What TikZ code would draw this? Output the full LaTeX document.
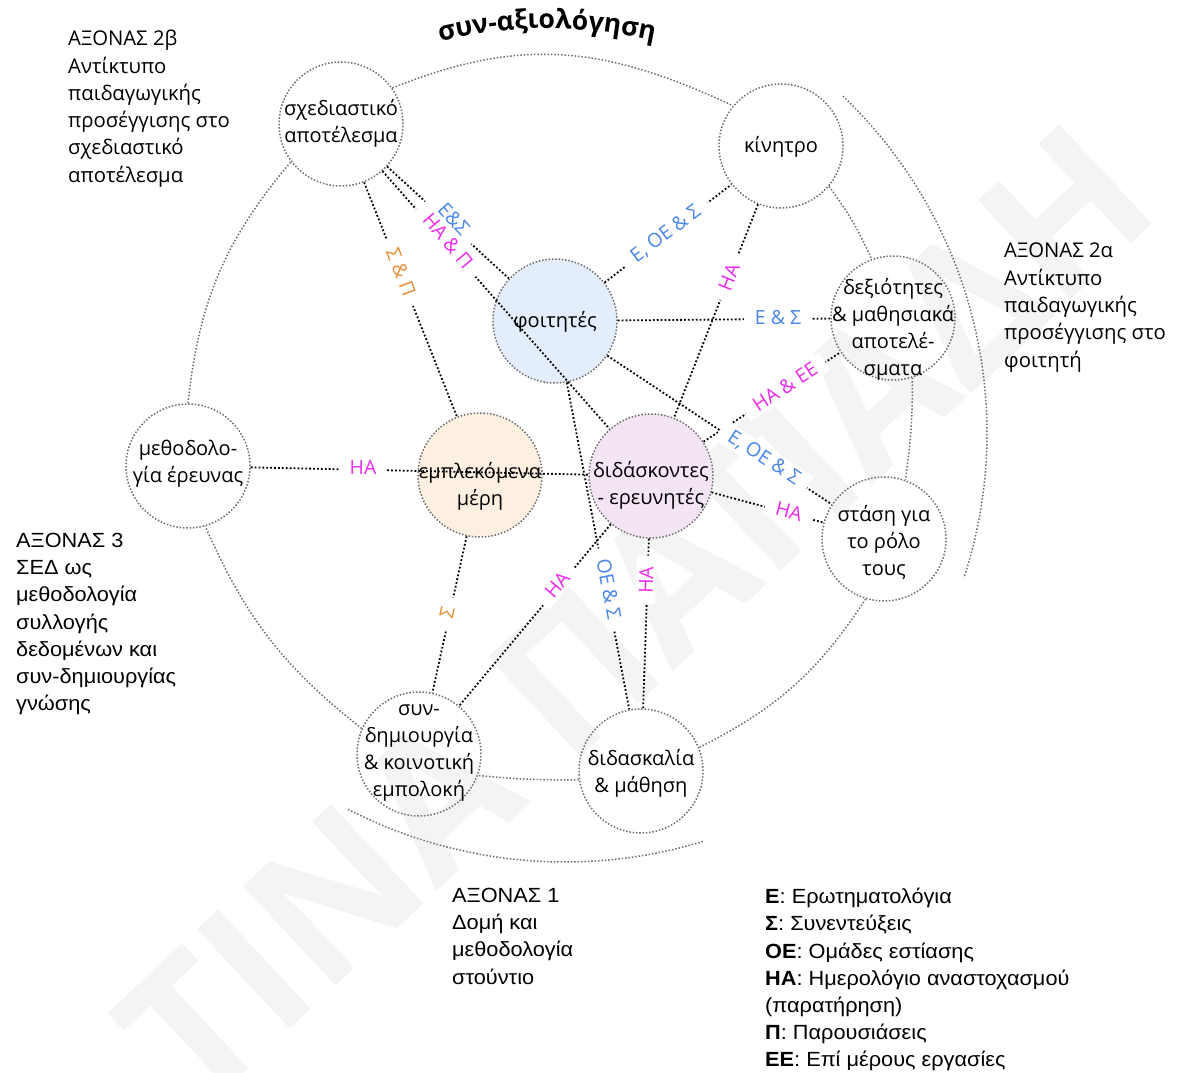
\documentclass[tikz,border=0pt]{standalone}
\usepackage{fontspec}
\setmainfont{Open Sans}
\newfontfamily\arialf[FakeStretch=1.06]{Liberation Sans}
\usetikzlibrary{decorations.text}
\definecolor{cblue}{HTML}{4A86E8}
\definecolor{cmag}{HTML}{EE2AEE}
\definecolor{corange}{HTML}{E69138}
\definecolor{fblue}{HTML}{E4EDFC}
\definecolor{forange}{HTML}{FDF0E1}
\definecolor{fpink}{HTML}{F4E5F4}
\definecolor{ringgray}{HTML}{6E6E6E}
\definecolor{wmark}{HTML}{F4F4F4}
\newcommand\ttlfont{\fontsize{26.5}{30}\selectfont\bfseries}
\begin{document}
\begin{tikzpicture}[x=1pt,y=1pt,
  circ/.style={circle, minimum size=124pt, inner sep=0pt, draw=ringgray, line width=1.5pt, dash pattern=on 1.5pt off 1.8pt},
  ctext/.style={align=center, font=\fontsize{20}{27}\selectfont, inner sep=0pt},
  ring/.style={draw=ringgray, line width=1.5pt, dash pattern=on 1.5pt off 1.9pt},
  conn/.style={draw=black, line width=1.8pt, dash pattern=on 1.8pt off 2.1pt},
  lab/.style={font=\fontsize{19.5}{22}\selectfont, fill=white, inner xsep=11pt, inner ysep=3pt},
  labt/.style={font=\fontsize{19.5}{22}\selectfont, inner sep=0pt},
  side/.style={align=left, anchor=north west, inner sep=0pt, font=\fontsize{20.3}{27.3}\selectfont},
  legend/.style={align=left, anchor=north west, inner sep=0pt, font=\arialf\fontsize{20.5}{27.2}\selectfont},
]
\useasboundingbox (0,-1073) rectangle (1178,0);
\fill[white] (0,-1073) rectangle (1178,0);

% watermark
\node[text=wmark, font=\fontsize{190}{190}\selectfont\bfseries, rotate=43, inner sep=0pt] (wm) at (635,-614) {ΤΙΝΑ ΠΑΠΑΔΗ};

% circles
\node[circ] (sx) at (341,-124) {};
\node[circ] (ki) at (781,-146) {};
\node[circ, fill=fblue] (fo) at (555,-321) {};
\node[circ] (de) at (893,-318) {};
\node[circ] (st) at (884,-539) {};
\node[circ, fill=fpink] (di) at (651,-476) {};
\node[circ, fill=forange] (em) at (480,-475) {};
\node[circ] (me) at (188,-466) {};
\node[circ] (sy) at (419,-754) {};
\node[circ] (dm) at (641,-771) {};

% ring
\draw[ring] (sx.35) .. controls +(22:140) and +(155:140) .. (ki.140);
\draw[ring] (ki.-40) to[bend left=6] (de.110);
\draw[ring] (de.-72) to[bend left=4] (st.70);
\draw[ring] (st.-107) to[bend left=15] (dm.22);
\draw[ring] (dm.188) to[bend left=3] (sy.-20);
\draw[ring] (sy.156) to[bend left=14] (me.-74);
\draw[ring] (me.90) to[bend left=17] (sx.217);

% axis arcs
\coordinate (rc) at (521,-433);
\coordinate (bc) at (565,-389);
\draw[ring] (rc) ++(46.3:466) arc[start angle=46.3, end angle=-18.1, radius=466];
\draw[ring] (bc) ++(-117.3:473) arc[start angle=-117.3, end angle=-72.9, radius=473];

% connectors
\draw[conn] (sx) -- (fo);
\draw[conn] (sx) -- (di);
\draw[conn] (sx) -- (em);
\draw[conn] (fo) -- (ki);
\draw[conn] (ki) -- (di);
\draw[conn] (fo) -- (de);
\draw[conn] (fo) -- (st);
\draw[conn] (di) -- (de);
\draw[conn] (di) -- (st);
\draw[conn] (me) -- (di);
\draw[conn] (fo) -- (dm);
\draw[conn] (di) -- (dm);
\draw[conn] (di) -- (sy);
\draw[conn] (em) -- (sy);

% circle texts
\node[ctext] (sxt) at (341,-123) {σχεδιαστικό\\αποτέλεσμα};
\node[ctext] (kit) at (781,-147) {κίνητρο};
\node[ctext] (fot) at (555,-322) {φοιτητές};
\node[ctext] (det) at (893,-329) {δεξιότητες\\\& μαθησιακά\\αποτελέ-\\σματα};
\node[ctext] (stt) at (884,-542) {στάση για\\το ρόλο\\τους};
\node[ctext] (dit) at (651,-485) {διδάσκοντες\\- ερευνητές};
\node[ctext] (emt) at (480,-486) {εμπλεκόμενα\\μέρη};
\node[ctext] (met) at (188,-464) {μεθοδολο-\\γία έρευνας};
\node[ctext] (syt) at (419,-753) {συν-\\δημιουργία\\\& κοινοτική\\εμπολοκή};
\node[ctext] (dmt) at (641,-773) {διδασκαλία\\\& μάθηση};

% labels
\fill[white, rotate around={-50:(448,-241)}] (403,-252) rectangle (493,-230);
\fill[white, rotate around={-48:(453,-220)}] (423,-231) rectangle (483,-209);
\node[labt, text=cmag, rotate=-50] (l2) at (448,-241) {ΗΑ \& Π};
\node[labt, text=cblue, rotate=-48] (l1) at (454,-219) {Ε\&Σ};
\node[lab, text=corange, rotate=-69] (l3) at (401,-272) {Σ \& Π};
\node[lab, text=cblue, rotate=37] (l4) at (666,-234) {Ε, ΟΕ \& Σ};
\node[lab, text=cmag, rotate=68] (l5) at (729,-277) {ΗΑ};
\node[lab, text=cblue] (l6) at (778,-318) {Ε \& Σ};
\node[lab, text=cblue, rotate=-33] (l7) at (764,-458) {Ε, ΟΕ \& Σ};
\node[lab, text=cmag, rotate=33] (l8) at (785,-387) {ΗΑ \& ΕΕ};
\node[lab, text=cmag, rotate=-15] (l9) at (789,-511) {ΗΑ};
\node[lab, text=cmag] (l10) at (363,-468) {ΗΑ};
\node[lab, text=cblue, rotate=-79] (l11) at (609,-589) {ΟΕ \& Σ};
\node[lab, text=cmag, rotate=88] (l12) at (646,-580) {ΗΑ};
\node[lab, text=cmag, rotate=50] (l13) at (557,-585) {ΗΑ};
\node[lab, text=corange, rotate=77] (l14) at (447,-613) {Σ};

% title
\path[decorate, decoration={text along path, text={|\ttlfont|συν-αξιολόγηση}, text align=center}] (432,-43) to[bend left=12] (662,-42);

% side texts
\node[side] (ax2b) at (68,-30) {ΑΞΟΝΑΣ 2β\\Αντίκτυπο\\παιδαγωγικής\\προσέγγισης στο\\σχεδιαστικό\\αποτέλεσμα};
\node[side] (ax2a) at (1004,-243) {ΑΞΟΝΑΣ 2α\\Αντίκτυπο\\παιδαγωγικής\\προσέγγισης στο\\φοιτητή};
\node[legend] (ax3) at (16,-533) {ΑΞΟΝΑΣ 3\\ΣΕΔ ως\\μεθοδολογία\\συλλογής\\δεδομένων και\\συν-δημιουργίας\\γνώσης};
\node[legend] (ax1) at (452,-888) {ΑΞΟΝΑΣ 1\\Δομή και\\μεθοδολογία\\στούντιο};
\node[legend] (leg) at (765,-888) {\textbf{Ε}: Ερωτηματολόγια\\\textbf{Σ}: Συνεντεύξεις\\\textbf{ΟΕ}: Ομάδες εστίασης\\\textbf{ΗΑ}: Ημερολόγιο αναστοχασμού\\(παρατήρηση)\\\textbf{Π}: Παρουσιάσεις\\\textbf{ΕΕ}: Επί μέρους εργασίες};
\end{tikzpicture}
\end{document}
